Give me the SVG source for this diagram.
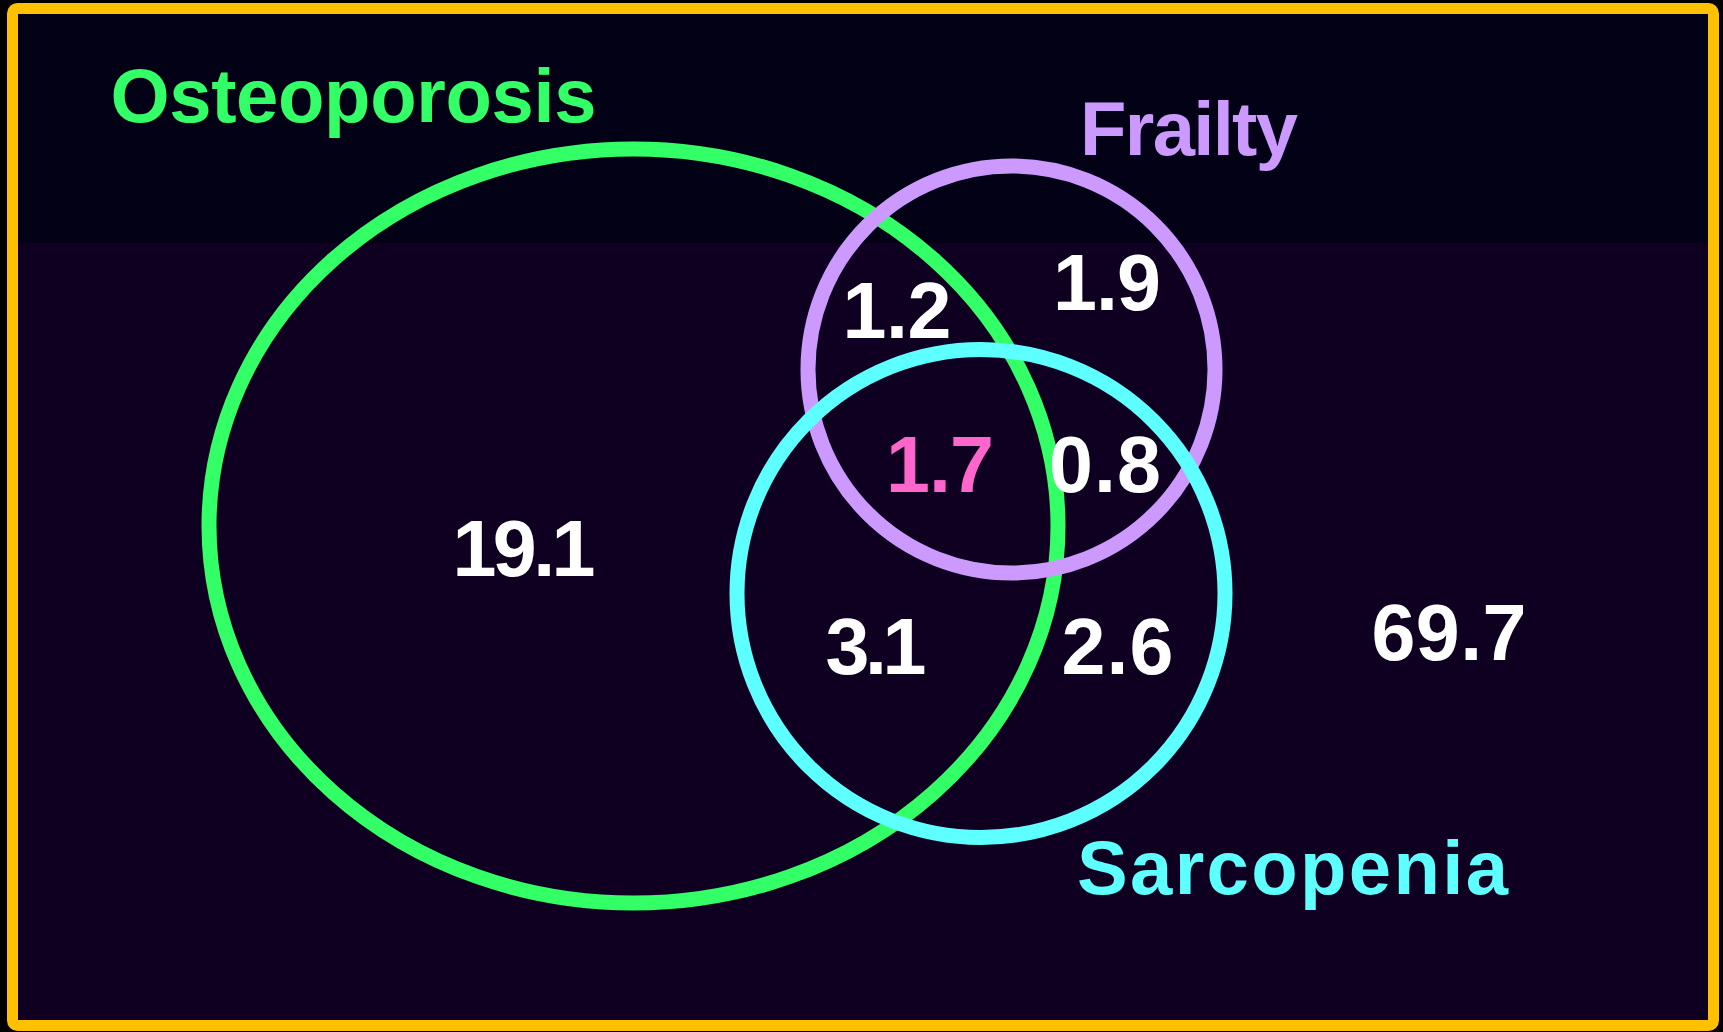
<svg xmlns="http://www.w3.org/2000/svg" width="1723" height="1032" viewBox="0 0 1723 1032">
  <style>
    .set { fill: none; stroke-width: 15; }
    .lbl { font-family: "Liberation Sans", Arial, sans-serif; font-weight: bold; font-size: 76px; text-anchor: middle; }
    .num { font-family: "Liberation Sans", Arial, sans-serif; font-weight: bold; font-size: 79px; text-anchor: middle; fill: #ffffff; }
  </style>
  <rect x="0" y="0" width="1723" height="1032" fill="#000000"/>
  <g id="background">
    <rect x="12" y="8" width="1701" height="1018" fill="#0f0021"/>
    <rect x="12" y="8" width="1701" height="235" fill="#020116"/>
    <rect x="12.5" y="8.5" width="1701" height="1017" rx="5" fill="none" stroke="#ffc000" stroke-width="11"/>
  </g>
  <g id="osteoporosis">
    <ellipse class="set" cx="633.5" cy="526" rx="424.5" ry="377" stroke="#33ff66"/>
    <text class="lbl" x="353.5" y="122" fill="#33ff66" textLength="486" lengthAdjust="spacing">Osteoporosis</text>
  </g>
  <g id="frailty">
    <circle class="set" cx="1011.5" cy="369.5" r="203.5" stroke="#cc99ff"/>
    <text class="lbl" x="1189" y="155" fill="#cc99ff" textLength="218" lengthAdjust="spacing">Frailty</text>
  </g>
  <g id="sarcopenia">
    <circle class="set" cx="981" cy="593.5" r="244" stroke="#5effff"/>
    <text class="lbl" x="1292.5" y="894" fill="#5effff" textLength="431" lengthAdjust="spacing">Sarcopenia</text>
  </g>
  <g id="values">
    <text class="num" x="524" y="576" textLength="143" lengthAdjust="spacing">19.1</text>
    <text class="num" x="897" y="338" textLength="109" lengthAdjust="spacing">1.2</text>
    <text class="num" x="1107" y="310" textLength="108" lengthAdjust="spacing">1.9</text>
    <text class="num" x="940" y="492" fill="#ff66cc" style="fill:#ff66cc" textLength="108" lengthAdjust="spacing">1.7</text>
    <text class="num" x="1105" y="492" textLength="112" lengthAdjust="spacing">0.8</text>
    <text class="num" x="876" y="674" textLength="101" lengthAdjust="spacing">3.1</text>
    <text class="num" x="1117.5" y="674" textLength="112" lengthAdjust="spacing">2.6</text>
    <text class="num" x="1449" y="660" textLength="155" lengthAdjust="spacing">69.7</text>
  </g>
</svg>
